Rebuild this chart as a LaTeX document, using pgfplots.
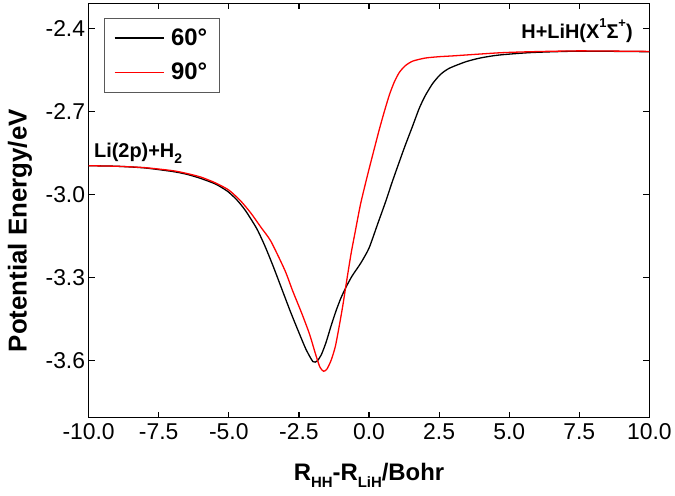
\documentclass[border=0pt]{standalone}
\usepackage{fontspec}
\setmainfont{Liberation Sans}
\usepackage{pgfplots}
\usepackage{pgfplotstable}
\pgfplotsset{compat=1.18}

\newcommand{\fs}[1]{\fontsize{#1}{#1}\selectfont}
\newcommand{\lo}[2]{\raisebox{-0.3em}{\fs{#1}#2}}
\newcommand{\hi}[2]{\raisebox{0.55em}{\fs{#1}#2}}

% 60 deg cut
\pgfplotstableread{
x y
-10 -2.897
-9 -2.899
-8 -2.905
-7 -2.918
-6.5 -2.928
-6 -2.943
-5.5 -2.962
-5.25 -2.976
-5 -2.993
-4.7 -3.022
-4.4 -3.06
-4.0 -3.125
-3.7 -3.19
-3.4 -3.265
-3.1 -3.345
-2.8 -3.425
-2.5 -3.50
-2.25 -3.56
-2.0 -3.605
-1.85 -3.603
-1.7 -3.58
-1.53 -3.535
-1.35 -3.475
-1.17 -3.42
-1.0 -3.375
-0.815 -3.335
-0.6 -3.295
-0.3 -3.25
0.0 -3.195
0.3 -3.11
0.6 -3.025
0.84 -2.952
1.25 -2.835
1.55 -2.755
1.79 -2.69
2.0 -2.645
2.27 -2.60
2.55 -2.567
2.86 -2.545
3.46 -2.521
4.0 -2.507
4.64 -2.497
5.8 -2.488
7.5 -2.483
10 -2.485
}\sixty

% 90 deg cut
\pgfplotstableread{
x y
-10 -2.897
-9 -2.899
-8 -2.904
-7 -2.915
-6.5 -2.925
-6 -2.938
-5.5 -2.958
-5.0 -2.985
-4.57 -3.025
-4.2 -3.07
-3.85 -3.12
-3.5 -3.17
-3.0 -3.275
-2.72 -3.35
-2.4 -3.43
-2.12 -3.506
-1.9 -3.58
-1.75 -3.625
-1.62 -3.64
-1.5 -3.632
-1.35 -3.60
-1.2 -3.55
-1.05 -3.47
-0.93 -3.40
-0.815 -3.325
-0.64 -3.215
-0.5 -3.14
-0.3 -3.035
-0.05 -2.93
0.19 -2.835
0.37 -2.765
0.55 -2.70
0.73 -2.64
0.9 -2.595
1.08 -2.56
1.3 -2.535
1.56 -2.519
2.0 -2.508
2.5 -2.503
3.0 -2.500
4.64 -2.489
5.8 -2.485
7.5 -2.482
10 -2.484
}\ninety

\begin{document}
\begin{tikzpicture}
\begin{axis}[
  name=ax,
  scale only axis,
  width=561.5bp, height=414.7bp,
  xmin=-10, xmax=10, ymin=-3.807, ymax=-2.31,
  xtick={-10,-7.5,-5,-2.5,0,2.5,5,7.5,10},
  xticklabels={-10.0,-7.5,-5.0,-2.5,0.0,2.5,5.0,7.5,10.0},
  ytick={-3.6,-3.3,-3.0,-2.7,-2.4},
  yticklabels={-3.6,-3.3,-3.0,-2.7,-2.4},
  tick align=inside,
  major tick length=6bp,
  tick style={black, line width=1.2bp},
  axis line style={line width=1.5bp},
  ticklabel style={font=\fs{23}},
  xticklabel style={yshift=-3bp},
  xlabel={R\lo{15}{HH}-R\lo{15}{LiH}/Bohr},
  ylabel={Potential Energy/eV},
  xlabel style={font=\fs{24}\bfseries, at={(axis description cs:0.5,-0.152)}, anchor=base},
  ylabel style={font=\fs{26}\bfseries, at={(axis description cs:-0.1104,0.451)}, anchor=base},
  legend style={at={(0.027,0.965)}, anchor=north west, draw=black!65,
    font=\fs{24}\bfseries, inner xsep=10bp, inner ysep=9bp, row sep=12bp,
    /tikz/every odd column/.append style={column sep=5bp}},
  legend cell align=left,
  legend image code/.code={\draw[#1, line width=1.3bp] (0bp,0bp) -- (49bp,0bp);},
]
\addplot[black, line width=1.3bp, smooth, tension=0.4] table {\sixty};
\addlegendentry{60°}
\addplot[red, line width=1.3bp, smooth, tension=0.4] table {\ninety};
\addlegendentry{90°}
\node[anchor=base west, inner sep=0, font=\fs{20}\bfseries] at (axis cs:-9.81,-2.868) {Li(2p)+H\lo{14}{2}};
\node[anchor=base east, inner sep=0, font=\fs{20}\bfseries] at (axis cs:9.41,-2.437) {H+LiH(X\hi{13}{1}Σ\hi{13}{+})};
\end{axis}
\path (ax.south west) ++(-88.7bp,-78bp) coordinate (bl);
\path (bl) rectangle ++(675bp,496bp);
\end{tikzpicture}
\end{document}
